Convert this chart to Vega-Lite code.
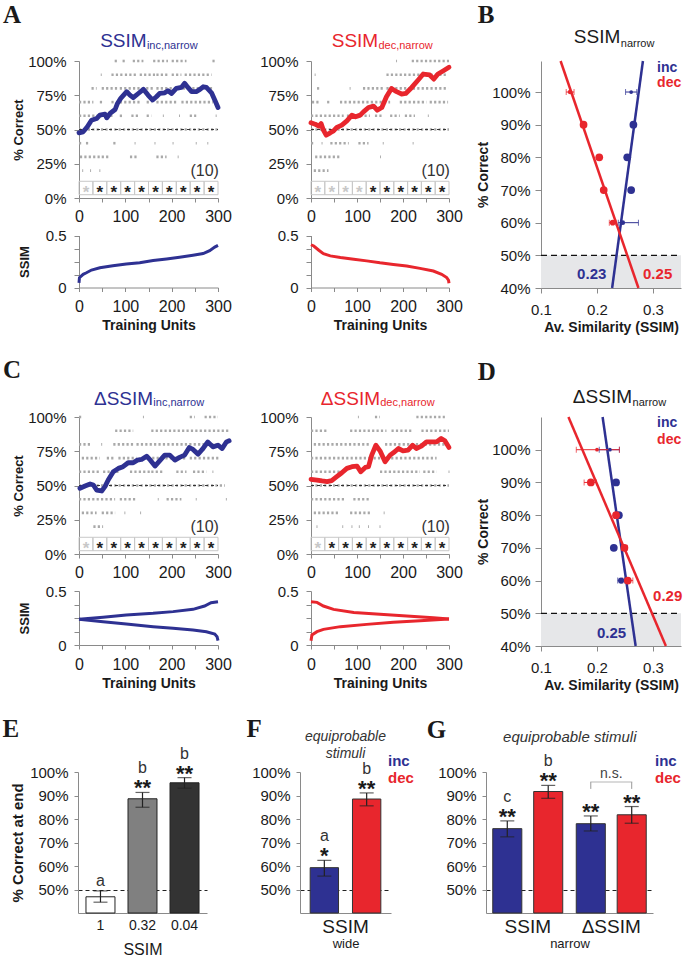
{
"$schema": "https://vega.github.io/schema/vega-lite/v6.json",
"width": 685, "height": 958,
"autosize": {"type": "none"},
"padding": 0,
"config": {
  "font": "Liberation Sans",
  "view": {"stroke": null},
  "axis": {"domainColor": "#8a8a8a", "tickColor": "#8a8a8a", "labelColor": "#1a1a1a", "titleColor": "#1a1a1a", "grid": false, "labelFontSize": 15, "titleFontSize": 14, "titleFontWeight": "bold", "labelFont": "Liberation Sans", "titleFont": "Liberation Sans"},
  "text": {"font": "Liberation Sans", "color": "#1a1a1a"}
},
"datasets": {
  "dots": [
    {"panel":"aL","level":100,"from":77,"to":85},{"panel":"aL","level":100,"from":94,"to":101},{"panel":"aL","level":100,"from":116,"to":139},{"panel":"aL","level":100,"from":160,"to":192},{"panel":"aL","level":100,"from":200,"to":232},{"panel":"aL","level":100,"from":288,"to":296},
    {"panel":"aL","level":90,"from":47,"to":49},{"panel":"aL","level":90,"from":70,"to":95},{"panel":"aL","level":90,"from":99,"to":124},{"panel":"aL","level":90,"from":131,"to":164},{"panel":"aL","level":90,"from":167,"to":192},{"panel":"aL","level":90,"from":200,"to":221},{"panel":"aL","level":90,"from":228,"to":286},
    {"panel":"aL","level":80,"from":27,"to":38},{"panel":"aL","level":80,"from":49,"to":85},{"panel":"aL","level":80,"from":88,"to":160},{"panel":"aL","level":80,"from":167,"to":232},{"panel":"aL","level":80,"from":235,"to":289},
    {"panel":"aL","level":70,"from":0,"to":31},{"panel":"aL","level":70,"from":45,"to":52},{"panel":"aL","level":70,"from":70,"to":77},{"panel":"aL","level":70,"from":88,"to":131},{"panel":"aL","level":70,"from":146,"to":156},{"panel":"aL","level":70,"from":167,"to":214},{"panel":"aL","level":70,"from":221,"to":289},
    {"panel":"aL","level":60,"from":0,"to":45},{"panel":"aL","level":60,"from":58,"to":77},{"panel":"aL","level":60,"from":88,"to":95},{"panel":"aL","level":60,"from":113,"to":131},{"panel":"aL","level":60,"from":146,"to":156},{"panel":"aL","level":60,"from":181,"to":183},{"panel":"aL","level":60,"from":216,"to":218},{"panel":"aL","level":60,"from":239,"to":253},{"panel":"aL","level":60,"from":295,"to":297},
    {"panel":"aL","level":50,"from":0,"to":300},
    {"panel":"aL","level":40,"from":0,"to":6},{"panel":"aL","level":40,"from":15,"to":24},{"panel":"aL","level":40,"from":74,"to":81},{"panel":"aL","level":40,"from":120,"to":122},{"panel":"aL","level":40,"from":163,"to":165},{"panel":"aL","level":40,"from":202,"to":204},{"panel":"aL","level":40,"from":252,"to":254},{"panel":"aL","level":40,"from":277,"to":279},
    {"panel":"aL","level":30,"from":2,"to":45},{"panel":"aL","level":30,"from":49,"to":67},{"panel":"aL","level":30,"from":110,"to":128},{"panel":"aL","level":30,"from":167,"to":189},{"panel":"aL","level":30,"from":213,"to":215},
    {"panel":"aL","level":20,"from":7,"to":9},{"panel":"aL","level":20,"from":24,"to":26},{"panel":"aL","level":20,"from":44,"to":46},
    {"panel":"aR","level":100,"from":185,"to":187},{"panel":"aR","level":100,"from":219,"to":300},
    {"panel":"aR","level":90,"from":8,"to":10},{"panel":"aR","level":90,"from":164,"to":294},
    {"panel":"aR","level":80,"from":13,"to":20},{"panel":"aR","level":80,"from":84,"to":86},{"panel":"aR","level":80,"from":113,"to":161},{"panel":"aR","level":80,"from":164,"to":298},
    {"panel":"aR","level":70,"from":2,"to":20},{"panel":"aR","level":70,"from":35,"to":42},{"panel":"aR","level":70,"from":63,"to":172},{"panel":"aR","level":70,"from":193,"to":251},{"panel":"aR","level":70,"from":258,"to":298},
    {"panel":"aR","level":60,"from":0,"to":71},{"panel":"aR","level":60,"from":78,"to":128},{"panel":"aR","level":60,"from":139,"to":157},{"panel":"aR","level":60,"from":172,"to":193},{"panel":"aR","level":60,"from":204,"to":226},{"panel":"aR","level":60,"from":254,"to":256},
    {"panel":"aR","level":50,"from":0,"to":300},
    {"panel":"aR","level":40,"from":0,"to":9},{"panel":"aR","level":40,"from":23,"to":25},{"panel":"aR","level":40,"from":42,"to":82},{"panel":"aR","level":40,"from":103,"to":125},{"panel":"aR","level":40,"from":156,"to":158},{"panel":"aR","level":40,"from":221,"to":223},
    {"panel":"aR","level":30,"from":9,"to":63},{"panel":"aR","level":30,"from":150,"to":152},
    {"panel":"aR","level":20,"from":6,"to":38},
    {"panel":"cL","level":100,"from":0,"to":9},{"panel":"cL","level":100,"from":138,"to":140},{"panel":"cL","level":100,"from":239,"to":250},{"panel":"cL","level":100,"from":271,"to":300},
    {"panel":"cL","level":90,"from":78,"to":117},{"panel":"cL","level":90,"from":156,"to":325},
    {"panel":"cL","level":80,"from":0,"to":27},{"panel":"cL","level":80,"from":48,"to":50},{"panel":"cL","level":80,"from":74,"to":117},{"panel":"cL","level":80,"from":124,"to":304},
    {"panel":"cL","level":70,"from":6,"to":45},{"panel":"cL","level":70,"from":60,"to":75},{"panel":"cL","level":70,"from":85,"to":124},{"panel":"cL","level":70,"from":139,"to":232},{"panel":"cL","level":70,"from":239,"to":304},
    {"panel":"cL","level":60,"from":0,"to":45},{"panel":"cL","level":60,"from":52,"to":88},{"panel":"cL","level":60,"from":110,"to":153},{"panel":"cL","level":60,"from":156,"to":182},{"panel":"cL","level":60,"from":210,"to":232},{"panel":"cL","level":60,"from":246,"to":275},{"panel":"cL","level":60,"from":288,"to":290},
    {"panel":"cL","level":50,"from":0,"to":315},
    {"panel":"cL","level":40,"from":0,"to":78},{"panel":"cL","level":40,"from":88,"to":124},{"panel":"cL","level":40,"from":170,"to":172},{"panel":"cL","level":40,"from":189,"to":221},{"panel":"cL","level":40,"from":252,"to":254},{"panel":"cL","level":40,"from":317,"to":319},
    {"panel":"cL","level":30,"from":6,"to":38},{"panel":"cL","level":30,"from":49,"to":78},{"panel":"cL","level":30,"from":98,"to":100},{"panel":"cL","level":30,"from":132,"to":134},
    {"panel":"cL","level":20,"from":31,"to":52},
    {"panel":"cR","level":100,"from":102,"to":104},{"panel":"cR","level":100,"from":139,"to":150},{"panel":"cR","level":100,"from":229,"to":291},
    {"panel":"cR","level":90,"from":0,"to":35},{"panel":"cR","level":90,"from":85,"to":164},{"panel":"cR","level":90,"from":175,"to":222},{"panel":"cR","level":90,"from":240,"to":300},
    {"panel":"cR","level":80,"from":6,"to":128},{"panel":"cR","level":80,"from":161,"to":300},
    {"panel":"cR","level":70,"from":0,"to":128},{"panel":"cR","level":70,"from":136,"to":273},
    {"panel":"cR","level":60,"from":0,"to":71},{"panel":"cR","level":60,"from":150,"to":237},{"panel":"cR","level":60,"from":244,"to":273},{"panel":"cR","level":60,"from":299,"to":301},
    {"panel":"cR","level":50,"from":0,"to":300},
    {"panel":"cR","level":40,"from":0,"to":74},{"panel":"cR","level":40,"from":92,"to":128},
    {"panel":"cR","level":30,"from":6,"to":63},{"panel":"cR","level":30,"from":85,"to":128},{"panel":"cR","level":30,"from":158,"to":160},
    {"panel":"cR","level":20,"from":12,"to":14},{"panel":"cR","level":20,"from":68,"to":70},{"panel":"cR","level":20,"from":88,"to":90},{"panel":"cR","level":20,"from":104,"to":106},{"panel":"cR","level":20,"from":124,"to":126},{"panel":"cR","level":20,"from":149,"to":151}
  ],
  "cells": [
    {"panel":"aL","from":0,"to":30,"mid":15,"sig":false},{"panel":"aL","from":30,"to":60,"mid":45,"sig":true},{"panel":"aL","from":60,"to":90,"mid":75,"sig":true},{"panel":"aL","from":90,"to":120,"mid":105,"sig":true},{"panel":"aL","from":120,"to":150,"mid":135,"sig":true},{"panel":"aL","from":150,"to":180,"mid":165,"sig":true},{"panel":"aL","from":180,"to":210,"mid":195,"sig":true},{"panel":"aL","from":210,"to":240,"mid":225,"sig":true},{"panel":"aL","from":240,"to":270,"mid":255,"sig":true},{"panel":"aL","from":270,"to":300,"mid":285,"sig":true},
    {"panel":"aR","from":0,"to":30,"mid":15,"sig":false},{"panel":"aR","from":30,"to":60,"mid":45,"sig":false},{"panel":"aR","from":60,"to":90,"mid":75,"sig":false},{"panel":"aR","from":90,"to":120,"mid":105,"sig":false},{"panel":"aR","from":120,"to":150,"mid":135,"sig":true},{"panel":"aR","from":150,"to":180,"mid":165,"sig":true},{"panel":"aR","from":180,"to":210,"mid":195,"sig":true},{"panel":"aR","from":210,"to":240,"mid":225,"sig":true},{"panel":"aR","from":240,"to":270,"mid":255,"sig":true},{"panel":"aR","from":270,"to":300,"mid":285,"sig":true},
    {"panel":"cL","from":0,"to":30,"mid":15,"sig":false},{"panel":"cL","from":30,"to":60,"mid":45,"sig":true},{"panel":"cL","from":60,"to":90,"mid":75,"sig":true},{"panel":"cL","from":90,"to":120,"mid":105,"sig":true},{"panel":"cL","from":120,"to":150,"mid":135,"sig":true},{"panel":"cL","from":150,"to":180,"mid":165,"sig":true},{"panel":"cL","from":180,"to":210,"mid":195,"sig":true},{"panel":"cL","from":210,"to":240,"mid":225,"sig":true},{"panel":"cL","from":240,"to":270,"mid":255,"sig":true},{"panel":"cL","from":270,"to":300,"mid":285,"sig":true},
    {"panel":"cR","from":0,"to":30,"mid":15,"sig":false},{"panel":"cR","from":30,"to":60,"mid":45,"sig":true},{"panel":"cR","from":60,"to":90,"mid":75,"sig":true},{"panel":"cR","from":90,"to":120,"mid":105,"sig":true},{"panel":"cR","from":120,"to":150,"mid":135,"sig":true},{"panel":"cR","from":150,"to":180,"mid":165,"sig":true},{"panel":"cR","from":180,"to":210,"mid":195,"sig":true},{"panel":"cR","from":210,"to":240,"mid":225,"sig":true},{"panel":"cR","from":240,"to":270,"mid":255,"sig":true},{"panel":"cR","from":270,"to":300,"mid":285,"sig":true}
  ],
  "curve": [
    {"panel":"aL","u":0,"p":47.6},{"panel":"aL","u":9,"p":48.3},{"panel":"aL","u":18,"p":52},{"panel":"aL","u":27,"p":56.8},{"panel":"aL","u":38,"p":58},{"panel":"aL","u":45,"p":60.5},{"panel":"aL","u":56,"p":61.2},{"panel":"aL","u":60,"p":58.5},{"panel":"aL","u":67,"p":61.7},{"panel":"aL","u":78,"p":64.6},{"panel":"aL","u":83,"p":69},{"panel":"aL","u":90,"p":72.7},{"panel":"aL","u":103,"p":77.6},{"panel":"aL","u":110,"p":75.1},{"panel":"aL","u":117,"p":73.2},{"panel":"aL","u":128,"p":76.3},{"panel":"aL","u":139,"p":79.3},{"panel":"aL","u":149,"p":75.1},{"panel":"aL","u":159,"p":71.5},{"panel":"aL","u":167,"p":73.9},{"panel":"aL","u":174,"p":76.3},{"panel":"aL","u":185,"p":76.8},{"panel":"aL","u":192,"p":78.3},{"panel":"aL","u":200,"p":76.3},{"panel":"aL","u":210,"p":80},{"panel":"aL","u":221,"p":80.7},{"panel":"aL","u":228,"p":83.7},{"panel":"aL","u":235,"p":80.7},{"panel":"aL","u":243,"p":77.6},{"panel":"aL","u":253,"p":77.6},{"panel":"aL","u":261,"p":79.3},{"panel":"aL","u":268,"p":81.2},{"panel":"aL","u":275,"p":80.7},{"panel":"aL","u":286,"p":76.8},{"panel":"aL","u":293,"p":71.5},{"panel":"aL","u":300,"p":66.1},
    {"panel":"aR","u":0,"p":54.9},{"panel":"aR","u":9,"p":53.9},{"panel":"aR","u":17,"p":52.4},{"panel":"aR","u":22,"p":54.4},{"panel":"aR","u":27,"p":49.5},{"panel":"aR","u":33,"p":45.9},{"panel":"aR","u":42,"p":47.6},{"panel":"aR","u":49,"p":49},{"panel":"aR","u":56,"p":51.5},{"panel":"aR","u":67,"p":53.2},{"panel":"aR","u":78,"p":56.3},{"panel":"aR","u":89,"p":60.5},{"panel":"aR","u":97,"p":59.3},{"panel":"aR","u":107,"p":60.5},{"panel":"aR","u":114,"p":62.9},{"panel":"aR","u":125,"p":66.1},{"panel":"aR","u":136,"p":67.1},{"panel":"aR","u":144,"p":64.1},{"panel":"aR","u":154,"p":66.1},{"panel":"aR","u":164,"p":73.9},{"panel":"aR","u":175,"p":80},{"panel":"aR","u":186,"p":77.6},{"panel":"aR","u":197,"p":75.9},{"panel":"aR","u":206,"p":76.3},{"panel":"aR","u":219,"p":80.7},{"panel":"aR","u":233,"p":86.1},{"panel":"aR","u":244,"p":90.5},{"panel":"aR","u":258,"p":89.8},{"panel":"aR","u":267,"p":86.8},{"panel":"aR","u":276,"p":90.5},{"panel":"aR","u":287,"p":92.7},{"panel":"aR","u":300,"p":95.4},
    {"panel":"cL","u":2,"p":47.9},{"panel":"cL","u":13,"p":49.6},{"panel":"cL","u":24,"p":51.1},{"panel":"cL","u":31,"p":50.4},{"panel":"cL","u":38,"p":46.7},{"panel":"cL","u":49,"p":46},{"panel":"cL","u":56,"p":49.2},{"panel":"cL","u":63,"p":54},{"panel":"cL","u":74,"p":60},{"panel":"cL","u":85,"p":62.5},{"panel":"cL","u":95,"p":63.7},{"panel":"cL","u":106,"p":66.6},{"panel":"cL","u":117,"p":66.6},{"panel":"cL","u":126,"p":68.5},{"panel":"cL","u":135,"p":69},{"panel":"cL","u":146,"p":71.4},{"panel":"cL","u":154,"p":68.5},{"panel":"cL","u":164,"p":64.2},{"panel":"cL","u":174,"p":68},{"panel":"cL","u":185,"p":72.2},{"panel":"cL","u":196,"p":72.2},{"panel":"cL","u":207,"p":68.5},{"panel":"cL","u":217,"p":70.5},{"panel":"cL","u":228,"p":72.2},{"panel":"cL","u":238,"p":77.7},{"panel":"cL","u":246,"p":76.3},{"panel":"cL","u":257,"p":72.9},{"panel":"cL","u":266,"p":76.3},{"panel":"cL","u":278,"p":81.8},{"panel":"cL","u":289,"p":78.2},{"panel":"cL","u":300,"p":79.4},{"panel":"cL","u":309,"p":77},{"panel":"cL","u":318,"p":81.8},{"panel":"cL","u":324,"p":82.6},
    {"panel":"cR","u":0,"p":54.5},{"panel":"cR","u":13,"p":54},{"panel":"cR","u":24,"p":53.3},{"panel":"cR","u":35,"p":52.8},{"panel":"cR","u":45,"p":53.5},{"panel":"cR","u":56,"p":56.4},{"panel":"cR","u":67,"p":59.3},{"panel":"cR","u":78,"p":62.5},{"panel":"cR","u":89,"p":63.7},{"panel":"cR","u":100,"p":64.2},{"panel":"cR","u":108,"p":60},{"panel":"cR","u":118,"p":63.2},{"panel":"cR","u":125,"p":63.7},{"panel":"cR","u":132,"p":72.2},{"panel":"cR","u":141,"p":79.4},{"panel":"cR","u":150,"p":75.3},{"panel":"cR","u":161,"p":67.3},{"panel":"cR","u":172,"p":72.2},{"panel":"cR","u":182,"p":74.6},{"panel":"cR","u":190,"p":77},{"panel":"cR","u":200,"p":75.3},{"panel":"cR","u":211,"p":75.8},{"panel":"cR","u":221,"p":79.4},{"panel":"cR","u":229,"p":77},{"panel":"cR","u":240,"p":78.7},{"panel":"cR","u":251,"p":81.8},{"panel":"cR","u":262,"p":81.8},{"panel":"cR","u":273,"p":81.8},{"panel":"cR","u":283,"p":84.3},{"panel":"cR","u":291,"p":82.6},{"panel":"cR","u":300,"p":77.7}
  ],
  "ssim": [
    {"panel":"aL","line":"a","u":0,"s":0.045},{"panel":"aL","line":"a","u":1,"s":0.095},{"panel":"aL","line":"a","u":9,"s":0.127},{"panel":"aL","line":"a","u":16,"s":0.142},{"panel":"aL","line":"a","u":27,"s":0.168},{"panel":"aL","line":"a","u":45,"s":0.19},{"panel":"aL","line":"a","u":73,"s":0.209},{"panel":"aL","line":"a","u":102,"s":0.225},{"panel":"aL","line":"a","u":131,"s":0.237},{"panel":"aL","line":"a","u":160,"s":0.259},{"panel":"aL","line":"a","u":189,"s":0.275},{"panel":"aL","line":"a","u":217,"s":0.291},{"panel":"aL","line":"a","u":246,"s":0.31},{"panel":"aL","line":"a","u":268,"s":0.326},{"panel":"aL","line":"a","u":282,"s":0.354},{"panel":"aL","line":"a","u":293,"s":0.389},{"panel":"aL","line":"a","u":300,"s":0.405},
    {"panel":"aR","line":"a","u":0,"s":0.411},{"panel":"aR","line":"a","u":6,"s":0.399},{"panel":"aR","line":"a","u":17,"s":0.358},{"panel":"aR","line":"a","u":27,"s":0.326},{"panel":"aR","line":"a","u":42,"s":0.304},{"panel":"aR","line":"a","u":64,"s":0.288},{"panel":"aR","line":"a","u":93,"s":0.272},{"panel":"aR","line":"a","u":121,"s":0.256},{"panel":"aR","line":"a","u":150,"s":0.237},{"panel":"aR","line":"a","u":179,"s":0.222},{"panel":"aR","line":"a","u":208,"s":0.206},{"panel":"aR","line":"a","u":237,"s":0.184},{"panel":"aR","line":"a","u":266,"s":0.158},{"panel":"aR","line":"a","u":284,"s":0.127},{"panel":"aR","line":"a","u":295,"s":0.095},{"panel":"aR","line":"a","u":299,"s":0.07},{"panel":"aR","line":"a","u":300,"s":0.041},
    {"panel":"cL","line":"up","u":0,"s":0.238},{"panel":"cL","line":"up","u":52,"s":0.256},{"panel":"cL","line":"up","u":102,"s":0.278},{"panel":"cL","line":"up","u":160,"s":0.293},{"panel":"cL","line":"up","u":203,"s":0.309},{"panel":"cL","line":"up","u":246,"s":0.33},{"panel":"cL","line":"up","u":271,"s":0.361},{"panel":"cL","line":"up","u":285,"s":0.392},{"panel":"cL","line":"up","u":300,"s":0.401},
    {"panel":"cL","line":"down","u":0,"s":0.238},{"panel":"cL","line":"down","u":52,"s":0.216},{"panel":"cL","line":"down","u":102,"s":0.194},{"panel":"cL","line":"down","u":160,"s":0.17},{"panel":"cL","line":"down","u":203,"s":0.154},{"panel":"cL","line":"down","u":246,"s":0.139},{"panel":"cL","line":"down","u":275,"s":0.123},{"panel":"cL","line":"down","u":293,"s":0.102},{"panel":"cL","line":"down","u":298,"s":0.077},{"panel":"cL","line":"down","u":300,"s":0.04},
    {"panel":"cR","line":"up","u":0,"s":0.401},{"panel":"cR","line":"up","u":13,"s":0.395},{"panel":"cR","line":"up","u":27,"s":0.361},{"panel":"cR","line":"up","u":49,"s":0.33},{"panel":"cR","line":"up","u":93,"s":0.302},{"panel":"cR","line":"up","u":150,"s":0.284},{"panel":"cR","line":"up","u":208,"s":0.269},{"panel":"cR","line":"up","u":266,"s":0.253},{"panel":"cR","line":"up","u":300,"s":0.241},
    {"panel":"cR","line":"down","u":0,"s":0.04},{"panel":"cR","line":"down","u":2,"s":0.093},{"panel":"cR","line":"down","u":13,"s":0.123},{"panel":"cR","line":"down","u":27,"s":0.145},{"panel":"cR","line":"down","u":64,"s":0.17},{"panel":"cR","line":"down","u":121,"s":0.191},{"panel":"cR","line":"down","u":179,"s":0.21},{"panel":"cR","line":"down","u":237,"s":0.225},{"panel":"cR","line":"down","u":300,"s":0.241}
  ],
  "fits": [
    {"panel":"B","s":"inc","x":0.227,"p":40},{"panel":"B","s":"inc","x":0.282,"p":109.5},
    {"panel":"B","s":"dec","x":0.135,"p":109.5},{"panel":"B","s":"dec","x":0.274,"p":40},
    {"panel":"D","s":"inc","x":0.21,"p":110},{"panel":"D","s":"inc","x":0.269,"p":40},
    {"panel":"D","s":"dec","x":0.149,"p":110},{"panel":"D","s":"dec","x":0.323,"p":40}
  ],
  "pts": [
    {"panel":"B","s":"inc","p":100,"x":0.261,"lo":0.251,"hi":0.271},{"panel":"B","s":"inc","p":90,"x":0.265,"lo":0.265,"hi":0.265},{"panel":"B","s":"inc","p":80,"x":0.254,"lo":0.254,"hi":0.254},{"panel":"B","s":"inc","p":70,"x":0.261,"lo":0.261,"hi":0.261},{"panel":"B","s":"inc","p":60,"x":0.246,"lo":0.238,"hi":0.274},
    {"panel":"B","s":"dec","p":100,"x":0.152,"lo":0.145,"hi":0.159},{"panel":"B","s":"dec","p":90,"x":0.176,"lo":0.176,"hi":0.176},{"panel":"B","s":"dec","p":80,"x":0.204,"lo":0.204,"hi":0.204},{"panel":"B","s":"dec","p":70,"x":0.212,"lo":0.212,"hi":0.212},{"panel":"B","s":"dec","p":60,"x":0.228,"lo":0.222,"hi":0.234},
    {"panel":"D","s":"inc","p":100,"x":0.223,"lo":0.204,"hi":0.24},{"panel":"D","s":"inc","p":90,"x":0.234,"lo":0.234,"hi":0.234},{"panel":"D","s":"inc","p":80,"x":0.239,"lo":0.239,"hi":0.239},{"panel":"D","s":"inc","p":70,"x":0.23,"lo":0.23,"hi":0.23},{"panel":"D","s":"inc","p":60,"x":0.243,"lo":0.237,"hi":0.249},
    {"panel":"D","s":"dec","p":100,"x":0.2,"lo":0.163,"hi":0.24},{"panel":"D","s":"dec","p":90,"x":0.189,"lo":0.177,"hi":0.199},{"panel":"D","s":"dec","p":80,"x":0.234,"lo":0.234,"hi":0.234},{"panel":"D","s":"dec","p":70,"x":0.249,"lo":0.244,"hi":0.254},{"panel":"D","s":"dec","p":60,"x":0.255,"lo":0.246,"hi":0.264}
  ],
  "E": [
    {"k":"1","m":46.9,"lo":44.6,"hi":49.4,"stars":"","letter":"a"},
    {"k":"0.32","m":88.6,"lo":85,"hi":91.3,"stars":"**","letter":"b"},
    {"k":"0.04","m":95.4,"lo":93.1,"hi":97.6,"stars":"**","letter":"b"}
  ],
  "F": [
    {"g":"SSIM","s":"inc","m":59.3,"lo":55.7,"hi":62.4,"stars":"*","letter":"a"},
    {"g":"SSIM","s":"dec","m":88.5,"lo":85.6,"hi":91.1,"stars":"**","letter":"b"}
  ],
  "G": [
    {"g":"SSIM","s":"inc","m":75.9,"lo":72.4,"hi":79.2,"stars":"**","letter":"c"},
    {"g":"SSIM","s":"dec","m":91.7,"lo":88.8,"hi":94.3,"stars":"**","letter":"b"},
    {"g":"ΔSSIM","s":"inc","m":78,"lo":74.9,"hi":81.3,"stars":"**","letter":""},
    {"g":"ΔSSIM","s":"dec","m":81.8,"lo":78.2,"hi":85.3,"stars":"**","letter":""}
  ]
},
"resolve": {"scale": {"x": "independent", "y": "independent", "xOffset": "independent"}, "axis": {"x": "independent", "y": "independent"}},
"layer": [
  {"layer": [
    {"data": {"name": "dots"}, "transform": [{"filter": "datum.panel == 'aL'"}], "mark": {"type": "rule", "color": "#a9a9a9", "strokeWidth": 2.6, "strokeDash": [2.2, 2.2]},
     "encoding": {"x": {"field": "from", "type": "quantitative", "scale": {"domain": [0, 300], "range": [79, 218], "nice": false, "zero": false}, "axis": {"orient": "bottom", "offset": -760, "values": [0,50,100,150,200,250,300], "labelExpr": "datum.value % 100 == 0 ? datum.label : ''", "labelFontSize": 16, "labelPadding": 6, "title": null, "labelFlush": false, "labelOverlap": false, "tickSize": 4}},
      "x2": {"field": "to"},
      "y": {"field": "level", "type": "quantitative", "scale": {"domain": [0, 100], "range": [198, 61], "nice": false}, "axis": {"orient": "left", "offset": -79, "values": [0,25,50,75,100], "labelExpr": "datum.value + '%'", "labelPadding": 8, "labelFlush": false, "labelOverlap": false, "title": "% Correct", "titleFontSize": 13, "titlePadding": 2, "tickSize": 5}}}},
    {"data": {"values": [{}]}, "mark": {"type": "rule", "color": "#333333", "strokeWidth": 1, "strokeDash": [3, 3]}, "encoding": {"x": {"datum": 0}, "x2": {"datum": 300}, "y": {"datum": 50}}},
    {"data": {"name": "cells"}, "transform": [{"filter": "datum.panel == 'aL'"}], "mark": {"type": "rect", "filled": false, "color": "#c8c8c8", "strokeWidth": 1}, "encoding": {"x": {"field": "from", "type": "quantitative"}, "x2": {"field": "to"}, "y": {"datum": 2.4}, "y2": {"datum": 12.2}}},
    {"data": {"name": "cells"}, "transform": [{"filter": "datum.panel == 'aL'"}], "mark": {"type": "text", "text": "*", "fontSize": 17, "fontWeight": "bold", "baseline": "middle", "dy": 5}, "encoding": {"x": {"field": "mid", "type": "quantitative"}, "y": {"datum": 7.5}, "color": {"condition": {"test": "datum.sig", "value": "#222222"}, "value": "#c8c8c8"}}},
    {"data": {"name": "curve"}, "transform": [{"filter": "datum.panel == 'aL'"}], "mark": {"type": "line", "color": "#2e3192", "strokeWidth": 4.8, "strokeJoin": "round", "strokeCap": "round"}, "encoding": {"x": {"field": "u", "type": "quantitative"}, "y": {"field": "p", "type": "quantitative"}}},
    {"data": {"values": [{}]}, "mark": {"type": "text", "text": "(10)", "align": "right", "baseline": "middle", "fontSize": 16, "color": "#333333"}, "encoding": {"x": {"datum": 302}, "y": {"datum": 20}}},
    {"data": {"values": [{}]}, "mark": {"type": "text", "text": "SSIM", "align": "right", "baseline": "alphabetic", "fontSize": 19, "color": "#2e3192"}, "encoding": {"x": {"datum": 146}, "y": {"datum": 110.4}}},
    {"data": {"values": [{}]}, "mark": {"type": "text", "text": "inc,narrow", "align": "left", "baseline": "alphabetic", "fontSize": 11, "color": "#2e3192"}, "encoding": {"x": {"datum": 146.5}, "y": {"datum": 108.5}}},
    {"data": {"values": [{}]}, "mark": {"type": "text", "text": "A", "align": "left", "baseline": "alphabetic", "font": "Liberation Serif", "fontWeight": "bold", "fontSize": 25, "color": "#1a1a1a"}, "encoding": {"x": {"datum": -164}, "y": {"datum": 127.7}}}
  ]},
  {"data": {"name": "ssim"}, "transform": [{"filter": "datum.panel == 'aL'"}], "mark": {"type": "line", "color": "#2e3192", "strokeWidth": 3},
   "encoding": {"x": {"field": "u", "type": "quantitative", "scale": {"domain": [0, 300], "range": [79, 218], "nice": false}, "axis": {"orient": "bottom", "offset": -670.5, "values": [0,50,100,150,200,250,300], "labelExpr": "datum.value % 100 == 0 ? datum.label : ''", "labelFontSize": 16, "labelPadding": 7, "title": "Training Units", "titlePadding": 4, "labelFlush": false, "labelOverlap": false, "tickSize": 4}},
    "y": {"field": "s", "type": "quantitative", "scale": {"domain": [0, 0.5], "range": [287.5, 235.5], "nice": false}, "axis": {"orient": "left", "offset": -79, "values": [0,0.125,0.25,0.375,0.5], "labelExpr": "datum.value == 0 ? '0' : datum.value == 0.5 ? '0.5' : ''", "labelPadding": 8, "labelFlush": false, "labelOverlap": false, "title": "SSIM", "titleFontSize": 13, "titlePadding": 14, "tickSize": 5}},
    "detail": {"field": "line"}}},
  {"layer": [
    {"data": {"name": "dots"}, "transform": [{"filter": "datum.panel == 'aR'"}], "mark": {"type": "rule", "color": "#a9a9a9", "strokeWidth": 2.6, "strokeDash": [2.2, 2.2]},
     "encoding": {"x": {"field": "from", "type": "quantitative", "scale": {"domain": [0, 300], "range": [311, 449], "nice": false, "zero": false}, "axis": {"orient": "bottom", "offset": -760, "values": [0,50,100,150,200,250,300], "labelExpr": "datum.value % 100 == 0 ? datum.label : ''", "labelFontSize": 16, "labelPadding": 6, "title": null, "labelFlush": false, "labelOverlap": false, "tickSize": 4}},
      "x2": {"field": "to"},
      "y": {"field": "level", "type": "quantitative", "scale": {"domain": [0, 100], "range": [198, 61], "nice": false}, "axis": {"orient": "left", "offset": -311, "values": [0,25,50,75,100], "labelExpr": "datum.value + '%'", "labelPadding": 8, "labelFlush": false, "labelOverlap": false, "title": null, "tickSize": 5}}}},
    {"data": {"values": [{}]}, "mark": {"type": "rule", "color": "#333333", "strokeWidth": 1, "strokeDash": [3, 3]}, "encoding": {"x": {"datum": 0}, "x2": {"datum": 300}, "y": {"datum": 50}}},
    {"data": {"name": "cells"}, "transform": [{"filter": "datum.panel == 'aR'"}], "mark": {"type": "rect", "filled": false, "color": "#c8c8c8", "strokeWidth": 1}, "encoding": {"x": {"field": "from", "type": "quantitative"}, "x2": {"field": "to"}, "y": {"datum": 2.4}, "y2": {"datum": 12.2}}},
    {"data": {"name": "cells"}, "transform": [{"filter": "datum.panel == 'aR'"}], "mark": {"type": "text", "text": "*", "fontSize": 17, "fontWeight": "bold", "baseline": "middle", "dy": 5}, "encoding": {"x": {"field": "mid", "type": "quantitative"}, "y": {"datum": 7.5}, "color": {"condition": {"test": "datum.sig", "value": "#222222"}, "value": "#c8c8c8"}}},
    {"data": {"name": "curve"}, "transform": [{"filter": "datum.panel == 'aR'"}], "mark": {"type": "line", "color": "#e8262d", "strokeWidth": 4.8, "strokeJoin": "round", "strokeCap": "round"}, "encoding": {"x": {"field": "u", "type": "quantitative"}, "y": {"field": "p", "type": "quantitative"}}},
    {"data": {"values": [{}]}, "mark": {"type": "text", "text": "(10)", "align": "right", "baseline": "middle", "fontSize": 16, "color": "#333333"}, "encoding": {"x": {"datum": 302}, "y": {"datum": 20}}},
    {"data": {"values": [{}]}, "mark": {"type": "text", "text": "SSIM", "align": "right", "baseline": "alphabetic", "fontSize": 19, "color": "#e8262d"}, "encoding": {"x": {"datum": 146}, "y": {"datum": 110.4}}},
    {"data": {"values": [{}]}, "mark": {"type": "text", "text": "dec,narrow", "align": "left", "baseline": "alphabetic", "fontSize": 11, "color": "#e8262d"}, "encoding": {"x": {"datum": 146.5}, "y": {"datum": 108.5}}}
  ]},
  {"data": {"name": "ssim"}, "transform": [{"filter": "datum.panel == 'aR'"}], "mark": {"type": "line", "color": "#e8262d", "strokeWidth": 3},
   "encoding": {"x": {"field": "u", "type": "quantitative", "scale": {"domain": [0, 300], "range": [311, 449], "nice": false}, "axis": {"orient": "bottom", "offset": -670.5, "values": [0,50,100,150,200,250,300], "labelExpr": "datum.value % 100 == 0 ? datum.label : ''", "labelFontSize": 16, "labelPadding": 7, "title": "Training Units", "titlePadding": 4, "labelFlush": false, "labelOverlap": false, "tickSize": 4}},
    "y": {"field": "s", "type": "quantitative", "scale": {"domain": [0, 0.5], "range": [287.5, 235.5], "nice": false}, "axis": {"orient": "left", "offset": -311, "values": [0,0.125,0.25,0.375,0.5], "labelExpr": "datum.value == 0 ? '0' : datum.value == 0.5 ? '0.5' : ''", "labelPadding": 8, "labelFlush": false, "labelOverlap": false, "title": null, "tickSize": 5}},
    "detail": {"field": "line"}}},
  {"layer": [
    {"data": {"values": [{}]}, "mark": {"type": "rect", "color": "#e6e7e9"}, "encoding": {"x": {"datum": 0.1, "type": "quantitative"}, "x2": {"datum": 0.35}, "y": {"datum": 40, "type": "quantitative"}, "y2": {"datum": 50}}},
    {"data": {"values": [{}]}, "mark": {"type": "rule", "color": "#111111", "strokeWidth": 1.3, "strokeDash": [6, 4]}, "encoding": {"x": {"datum": 0.1}, "x2": {"datum": 0.35}, "y": {"datum": 50}}},
    {"data": {"name": "fits"}, "transform": [{"filter": "datum.panel == 'B'"}], "mark": {"type": "line", "strokeWidth": 2.5}, "encoding": {"x": {"field": "x", "type": "quantitative"}, "y": {"field": "p", "type": "quantitative"}, "detail": {"field": "s"}, "color": {"condition": {"test": "datum.s == 'inc'", "value": "#2e3192"}, "value": "#e8262d"}}},
    {"data": {"name": "pts"}, "transform": [{"filter": "datum.panel == 'B' && datum.hi > datum.lo"}], "mark": {"type": "rule", "strokeWidth": 1}, "encoding": {"x": {"field": "lo", "type": "quantitative"}, "x2": {"field": "hi"}, "y": {"field": "p", "type": "quantitative"}, "color": {"condition": {"test": "datum.s == 'inc'", "value": "#2e3192"}, "value": "#e8262d"}}},
    {"data": {"name": "pts"}, "transform": [{"filter": "datum.panel == 'B' && datum.hi > datum.lo"}], "mark": {"type": "tick", "orient": "vertical", "size": 6, "thickness": 1}, "encoding": {"x": {"field": "lo", "type": "quantitative"}, "y": {"field": "p", "type": "quantitative"}, "color": {"condition": {"test": "datum.s == 'inc'", "value": "#2e3192"}, "value": "#e8262d"}}},
    {"data": {"name": "pts"}, "transform": [{"filter": "datum.panel == 'B' && datum.hi > datum.lo"}], "mark": {"type": "tick", "orient": "vertical", "size": 6, "thickness": 1}, "encoding": {"x": {"field": "hi", "type": "quantitative"}, "y": {"field": "p", "type": "quantitative"}, "color": {"condition": {"test": "datum.s == 'inc'", "value": "#2e3192"}, "value": "#e8262d"}}},
    {"data": {"name": "pts"}, "transform": [{"filter": "datum.panel == 'B'"}], "mark": {"type": "circle", "opacity": 1},
     "encoding": {"x": {"field": "x", "type": "quantitative", "scale": {"domain": [0.1, 0.35], "range": [541, 681], "nice": false, "zero": false}, "axis": {"orient": "bottom", "offset": -670, "values": [0.1,0.2,0.3], "format": ".1f", "labelPadding": 9, "title": "Av. Similarity (SSIM)", "titlePadding": 3, "labelFlush": false, "labelOverlap": false, "tickSize": 5}},
      "y": {"field": "p", "type": "quantitative", "scale": {"domain": [40, 109.5], "range": [288, 61], "nice": false, "zero": false}, "axis": {"orient": "left", "offset": -541, "values": [40,50,60,70,80,90,100], "labelExpr": "datum.value + '%'", "labelPadding": 5, "title": "% Correct", "titlePadding": 1, "labelFlush": false, "labelOverlap": false, "tickSize": 6}},
      "color": {"condition": {"test": "datum.s == 'inc'", "value": "#2e3192"}, "value": "#e8262d"},
      "size": {"condition": [{"test": "datum.p == 100 && datum.s == 'inc'", "value": 14}, {"test": "datum.p == 100 || (datum.p == 60 && datum.s == 'inc')", "value": 22}, {"test": "datum.p == 60", "value": 32}], "value": 60}}},
    {"data": {"values": [{}]}, "mark": {"type": "text", "text": "inc", "align": "left", "baseline": "alphabetic", "fontSize": 14, "fontWeight": "bold", "color": "#2e3192"}, "encoding": {"x": {"datum": 0.3073}, "y": {"datum": 106.2}}},
    {"data": {"values": [{}]}, "mark": {"type": "text", "text": "dec", "align": "left", "baseline": "alphabetic", "fontSize": 14, "fontWeight": "bold", "color": "#e8262d"}, "encoding": {"x": {"datum": 0.3073}, "y": {"datum": 101.5}}},
    {"data": {"values": [{}]}, "mark": {"type": "text", "text": "0.23", "align": "left", "baseline": "alphabetic", "fontSize": 15, "fontWeight": "bold", "color": "#2e3192"}, "encoding": {"x": {"datum": 0.1645}, "y": {"datum": 42.8}}},
    {"data": {"values": [{}]}, "mark": {"type": "text", "text": "0.25", "align": "left", "baseline": "alphabetic", "fontSize": 15, "fontWeight": "bold", "color": "#e8262d"}, "encoding": {"x": {"datum": 0.2822}, "y": {"datum": 42.8}}},
    {"data": {"values": [{}]}, "mark": {"type": "text", "text": "SSIM", "align": "right", "baseline": "alphabetic", "fontSize": 19, "color": "#1a1a1a"}, "encoding": {"x": {"datum": 0.2416}, "y": {"datum": 114.9}}},
    {"data": {"values": [{}]}, "mark": {"type": "text", "text": "narrow", "align": "left", "baseline": "alphabetic", "fontSize": 11, "color": "#1a1a1a"}, "encoding": {"x": {"datum": 0.2425}, "y": {"datum": 113.9}}},
    {"data": {"values": [{}]}, "mark": {"type": "text", "text": "B", "align": "left", "baseline": "alphabetic", "font": "Liberation Serif", "fontWeight": "bold", "fontSize": 25, "color": "#1a1a1a"}, "encoding": {"x": {"datum": -0.0129}, "y": {"datum": 121.1}}}
  ]},
  {"layer": [
    {"data": {"name": "dots"}, "transform": [{"filter": "datum.panel == 'cL'"}], "mark": {"type": "rule", "color": "#a9a9a9", "strokeWidth": 2.6, "strokeDash": [2.2, 2.2]},
     "encoding": {"x": {"field": "from", "type": "quantitative", "scale": {"domain": [0, 300], "range": [79, 218], "nice": false, "zero": false}, "axis": {"orient": "bottom", "offset": -404, "values": [0,50,100,150,200,250,300], "labelExpr": "datum.value % 100 == 0 ? datum.label : ''", "labelFontSize": 16, "labelPadding": 6, "title": null, "labelFlush": false, "labelOverlap": false, "tickSize": 4}},
      "x2": {"field": "to"},
      "y": {"field": "level", "type": "quantitative", "scale": {"domain": [0, 100], "range": [554, 417], "nice": false}, "axis": {"orient": "left", "offset": -79, "values": [0,25,50,75,100], "labelExpr": "datum.value + '%'", "labelPadding": 8, "labelFlush": false, "labelOverlap": false, "title": "% Correct", "titleFontSize": 13, "titlePadding": 2, "tickSize": 5}}}},
    {"data": {"values": [{}]}, "mark": {"type": "rule", "color": "#333333", "strokeWidth": 1, "strokeDash": [3, 3]}, "encoding": {"x": {"datum": 0}, "x2": {"datum": 300}, "y": {"datum": 50}}},
    {"data": {"name": "cells"}, "transform": [{"filter": "datum.panel == 'cL'"}], "mark": {"type": "rect", "filled": false, "color": "#c8c8c8", "strokeWidth": 1}, "encoding": {"x": {"field": "from", "type": "quantitative"}, "x2": {"field": "to"}, "y": {"datum": 2.4}, "y2": {"datum": 12.2}}},
    {"data": {"name": "cells"}, "transform": [{"filter": "datum.panel == 'cL'"}], "mark": {"type": "text", "text": "*", "fontSize": 17, "fontWeight": "bold", "baseline": "middle", "dy": 5}, "encoding": {"x": {"field": "mid", "type": "quantitative"}, "y": {"datum": 7.5}, "color": {"condition": {"test": "datum.sig", "value": "#222222"}, "value": "#c8c8c8"}}},
    {"data": {"name": "curve"}, "transform": [{"filter": "datum.panel == 'cL'"}], "mark": {"type": "line", "color": "#2e3192", "strokeWidth": 4.8, "strokeJoin": "round", "strokeCap": "round"}, "encoding": {"x": {"field": "u", "type": "quantitative"}, "y": {"field": "p", "type": "quantitative"}}},
    {"data": {"values": [{}]}, "mark": {"type": "text", "text": "(10)", "align": "right", "baseline": "middle", "fontSize": 16, "color": "#333333"}, "encoding": {"x": {"datum": 302}, "y": {"datum": 20}}},
    {"data": {"values": [{}]}, "mark": {"type": "text", "text": "ΔSSIM", "align": "right", "baseline": "alphabetic", "fontSize": 19, "color": "#2e3192"}, "encoding": {"x": {"datum": 160}, "y": {"datum": 108.8}}},
    {"data": {"values": [{}]}, "mark": {"type": "text", "text": "inc,narrow", "align": "left", "baseline": "alphabetic", "fontSize": 11, "color": "#2e3192"}, "encoding": {"x": {"datum": 160.5}, "y": {"datum": 108}}},
    {"data": {"values": [{}]}, "mark": {"type": "text", "text": "C", "align": "left", "baseline": "alphabetic", "font": "Liberation Serif", "fontWeight": "bold", "fontSize": 25, "color": "#1a1a1a"}, "encoding": {"x": {"datum": -164}, "y": {"datum": 128.5}}}
  ]},
  {"data": {"name": "ssim"}, "transform": [{"filter": "datum.panel == 'cL'"}], "mark": {"type": "line", "color": "#2e3192", "strokeWidth": 3},
   "encoding": {"x": {"field": "u", "type": "quantitative", "scale": {"domain": [0, 300], "range": [79, 218], "nice": false}, "axis": {"orient": "bottom", "offset": -313, "values": [0,50,100,150,200,250,300], "labelExpr": "datum.value % 100 == 0 ? datum.label : ''", "labelFontSize": 16, "labelPadding": 7, "title": "Training Units", "titlePadding": 4, "labelFlush": false, "labelOverlap": false, "tickSize": 4}},
    "y": {"field": "s", "type": "quantitative", "scale": {"domain": [0, 0.5], "range": [645, 591], "nice": false}, "axis": {"orient": "left", "offset": -79, "values": [0,0.125,0.25,0.375,0.5], "labelExpr": "datum.value == 0 ? '0' : datum.value == 0.5 ? '0.5' : ''", "labelPadding": 8, "labelFlush": false, "labelOverlap": false, "title": "SSIM", "titleFontSize": 13, "titlePadding": 14, "tickSize": 5}},
    "detail": {"field": "line"}}},
  {"layer": [
    {"data": {"name": "dots"}, "transform": [{"filter": "datum.panel == 'cR'"}], "mark": {"type": "rule", "color": "#a9a9a9", "strokeWidth": 2.6, "strokeDash": [2.2, 2.2]},
     "encoding": {"x": {"field": "from", "type": "quantitative", "scale": {"domain": [0, 300], "range": [311, 449], "nice": false, "zero": false}, "axis": {"orient": "bottom", "offset": -404, "values": [0,50,100,150,200,250,300], "labelExpr": "datum.value % 100 == 0 ? datum.label : ''", "labelFontSize": 16, "labelPadding": 6, "title": null, "labelFlush": false, "labelOverlap": false, "tickSize": 4}},
      "x2": {"field": "to"},
      "y": {"field": "level", "type": "quantitative", "scale": {"domain": [0, 100], "range": [554, 417], "nice": false}, "axis": {"orient": "left", "offset": -311, "values": [0,25,50,75,100], "labelExpr": "datum.value + '%'", "labelPadding": 8, "labelFlush": false, "labelOverlap": false, "title": null, "tickSize": 5}}}},
    {"data": {"values": [{}]}, "mark": {"type": "rule", "color": "#333333", "strokeWidth": 1, "strokeDash": [3, 3]}, "encoding": {"x": {"datum": 0}, "x2": {"datum": 300}, "y": {"datum": 50}}},
    {"data": {"name": "cells"}, "transform": [{"filter": "datum.panel == 'cR'"}], "mark": {"type": "rect", "filled": false, "color": "#c8c8c8", "strokeWidth": 1}, "encoding": {"x": {"field": "from", "type": "quantitative"}, "x2": {"field": "to"}, "y": {"datum": 2.4}, "y2": {"datum": 12.2}}},
    {"data": {"name": "cells"}, "transform": [{"filter": "datum.panel == 'cR'"}], "mark": {"type": "text", "text": "*", "fontSize": 17, "fontWeight": "bold", "baseline": "middle", "dy": 5}, "encoding": {"x": {"field": "mid", "type": "quantitative"}, "y": {"datum": 7.5}, "color": {"condition": {"test": "datum.sig", "value": "#222222"}, "value": "#c8c8c8"}}},
    {"data": {"name": "curve"}, "transform": [{"filter": "datum.panel == 'cR'"}], "mark": {"type": "line", "color": "#e8262d", "strokeWidth": 4.8, "strokeJoin": "round", "strokeCap": "round"}, "encoding": {"x": {"field": "u", "type": "quantitative"}, "y": {"field": "p", "type": "quantitative"}}},
    {"data": {"values": [{}]}, "mark": {"type": "text", "text": "(10)", "align": "right", "baseline": "middle", "fontSize": 16, "color": "#333333"}, "encoding": {"x": {"datum": 302}, "y": {"datum": 20}}},
    {"data": {"values": [{}]}, "mark": {"type": "text", "text": "ΔSSIM", "align": "right", "baseline": "alphabetic", "fontSize": 19, "color": "#e8262d"}, "encoding": {"x": {"datum": 150}, "y": {"datum": 108.8}}},
    {"data": {"values": [{}]}, "mark": {"type": "text", "text": "dec,narrow", "align": "left", "baseline": "alphabetic", "fontSize": 11, "color": "#e8262d"}, "encoding": {"x": {"datum": 150.5}, "y": {"datum": 108}}}
  ]},
  {"data": {"name": "ssim"}, "transform": [{"filter": "datum.panel == 'cR'"}], "mark": {"type": "line", "color": "#e8262d", "strokeWidth": 3},
   "encoding": {"x": {"field": "u", "type": "quantitative", "scale": {"domain": [0, 300], "range": [311, 449], "nice": false}, "axis": {"orient": "bottom", "offset": -313, "values": [0,50,100,150,200,250,300], "labelExpr": "datum.value % 100 == 0 ? datum.label : ''", "labelFontSize": 16, "labelPadding": 7, "title": "Training Units", "titlePadding": 4, "labelFlush": false, "labelOverlap": false, "tickSize": 4}},
    "y": {"field": "s", "type": "quantitative", "scale": {"domain": [0, 0.5], "range": [645, 591], "nice": false}, "axis": {"orient": "left", "offset": -311, "values": [0,0.125,0.25,0.375,0.5], "labelExpr": "datum.value == 0 ? '0' : datum.value == 0.5 ? '0.5' : ''", "labelPadding": 8, "labelFlush": false, "labelOverlap": false, "title": null, "tickSize": 5}},
    "detail": {"field": "line"}}},
  {"layer": [
    {"data": {"values": [{}]}, "mark": {"type": "rect", "color": "#e6e7e9"}, "encoding": {"x": {"datum": 0.1, "type": "quantitative"}, "x2": {"datum": 0.35}, "y": {"datum": 40, "type": "quantitative"}, "y2": {"datum": 50}}},
    {"data": {"values": [{}]}, "mark": {"type": "rule", "color": "#111111", "strokeWidth": 1.3, "strokeDash": [6, 4]}, "encoding": {"x": {"datum": 0.1}, "x2": {"datum": 0.35}, "y": {"datum": 50}}},
    {"data": {"name": "fits"}, "transform": [{"filter": "datum.panel == 'D'"}], "mark": {"type": "line", "strokeWidth": 2.5}, "encoding": {"x": {"field": "x", "type": "quantitative"}, "y": {"field": "p", "type": "quantitative"}, "detail": {"field": "s"}, "color": {"condition": {"test": "datum.s == 'inc'", "value": "#2e3192"}, "value": "#e8262d"}}},
    {"data": {"name": "pts"}, "transform": [{"filter": "datum.panel == 'D' && datum.hi > datum.lo"}], "mark": {"type": "rule", "strokeWidth": 1}, "encoding": {"x": {"field": "lo", "type": "quantitative"}, "x2": {"field": "hi"}, "y": {"field": "p", "type": "quantitative"}, "color": {"condition": {"test": "datum.s == 'inc'", "value": "#2e3192"}, "value": "#e8262d"}}},
    {"data": {"name": "pts"}, "transform": [{"filter": "datum.panel == 'D' && datum.hi > datum.lo"}], "mark": {"type": "tick", "orient": "vertical", "size": 6, "thickness": 1}, "encoding": {"x": {"field": "lo", "type": "quantitative"}, "y": {"field": "p", "type": "quantitative"}, "color": {"condition": {"test": "datum.s == 'inc'", "value": "#2e3192"}, "value": "#e8262d"}}},
    {"data": {"name": "pts"}, "transform": [{"filter": "datum.panel == 'D' && datum.hi > datum.lo"}], "mark": {"type": "tick", "orient": "vertical", "size": 6, "thickness": 1}, "encoding": {"x": {"field": "hi", "type": "quantitative"}, "y": {"field": "p", "type": "quantitative"}, "color": {"condition": {"test": "datum.s == 'inc'", "value": "#2e3192"}, "value": "#e8262d"}}},
    {"data": {"name": "pts"}, "transform": [{"filter": "datum.panel == 'D'"}], "mark": {"type": "circle", "opacity": 1},
     "encoding": {"x": {"field": "x", "type": "quantitative", "scale": {"domain": [0.1, 0.35], "range": [541, 681], "nice": false, "zero": false}, "axis": {"orient": "bottom", "offset": -312, "values": [0.1,0.2,0.3], "format": ".1f", "labelPadding": 9, "title": "Av. Similarity (SSIM)", "titlePadding": 3, "labelFlush": false, "labelOverlap": false, "tickSize": 5}},
      "y": {"field": "p", "type": "quantitative", "scale": {"domain": [40, 110], "range": [646, 417], "nice": false, "zero": false}, "axis": {"orient": "left", "offset": -541, "values": [40,50,60,70,80,90,100], "labelExpr": "datum.value + '%'", "labelPadding": 5, "title": "% Correct", "titlePadding": 1, "labelFlush": false, "labelOverlap": false, "tickSize": 6}},
      "color": {"condition": {"test": "datum.s == 'inc'", "value": "#2e3192"}, "value": "#e8262d"},
      "size": {"condition": [{"test": "datum.p == 100", "value": 14}, {"test": "datum.p == 60 && datum.s == 'inc'", "value": 38}], "value": 60}}},
    {"data": {"values": [{}]}, "mark": {"type": "text", "text": "inc", "align": "left", "baseline": "alphabetic", "fontSize": 14, "fontWeight": "bold", "color": "#2e3192"}, "encoding": {"x": {"datum": 0.3073}, "y": {"datum": 106.9}}},
    {"data": {"values": [{}]}, "mark": {"type": "text", "text": "dec", "align": "left", "baseline": "alphabetic", "fontSize": 14, "fontWeight": "bold", "color": "#e8262d"}, "encoding": {"x": {"datum": 0.3073}, "y": {"datum": 101.7}}},
    {"data": {"values": [{}]}, "mark": {"type": "text", "text": "0.25", "align": "left", "baseline": "alphabetic", "fontSize": 15, "fontWeight": "bold", "color": "#2e3192"}, "encoding": {"x": {"datum": 0.1998}, "y": {"datum": 42.5}}},
    {"data": {"values": [{}]}, "mark": {"type": "text", "text": "0.29", "align": "left", "baseline": "alphabetic", "fontSize": 15, "fontWeight": "bold", "color": "#e8262d"}, "encoding": {"x": {"datum": 0.3002}, "y": {"datum": 53.8}}},
    {"data": {"values": [{}]}, "mark": {"type": "text", "text": "ΔSSIM", "align": "right", "baseline": "alphabetic", "fontSize": 19, "color": "#1a1a1a"}, "encoding": {"x": {"datum": 0.2625}, "y": {"datum": 114.2}}},
    {"data": {"values": [{}]}, "mark": {"type": "text", "text": "narrow", "align": "left", "baseline": "alphabetic", "fontSize": 11, "color": "#1a1a1a"}, "encoding": {"x": {"datum": 0.2635}, "y": {"datum": 113.4}}},
    {"data": {"values": [{}]}, "mark": {"type": "text", "text": "D", "align": "left", "baseline": "alphabetic", "font": "Liberation Serif", "fontWeight": "bold", "fontSize": 25, "color": "#1a1a1a"}, "encoding": {"x": {"datum": -0.0129}, "y": {"datum": 121.4}}}
  ]},
  {"data": {"name": "E"}, "layer": [
    {"mark": {"type": "bar", "stroke": "#222222", "strokeWidth": 1},
     "encoding": {"x": {"field": "k", "type": "nominal", "scale": {"domain": ["1", "0.32", "0.04"], "range": [78, 207], "paddingInner": 0.31, "paddingOuter": 0.19}, "axis": {"orient": "bottom", "offset": -45, "title": "SSIM", "labelAngle": 0, "ticks": false, "labelFontSize": 14, "labelPadding": 5, "titleFontSize": 16, "titleFontWeight": "normal", "titlePadding": 9}},
      "y": {"field": "m", "type": "quantitative", "scale": {"domain": [40, 100], "range": [913, 772], "nice": false, "zero": false}, "axis": {"orient": "left", "offset": -78, "values": [50,60,70,80,90,100], "labelExpr": "datum.value + '%'", "labelPadding": 6, "labelFlush": false, "labelOverlap": false, "tickSize": 4, "title": "% Correct at end", "titleFontSize": 15, "titlePadding": 4, "grid": true, "gridColor": "#222222", "gridDash": [4, 3], "gridWidth": 1, "gridOpacity": {"condition": {"test": "datum.value == 50", "value": 1}, "value": 0}}},
      "y2": {"datum": 40},
      "fill": {"condition": [{"test": "datum.k == '1'", "value": "#ffffff"}, {"test": "datum.k == '0.32'", "value": "#808080"}], "value": "#333333"}}},
    {"mark": {"type": "rule", "color": "#222222", "strokeWidth": 1.2}, "encoding": {"x": {"field": "k", "type": "nominal"}, "y": {"field": "lo", "type": "quantitative"}, "y2": {"field": "hi"}}},
    {"mark": {"type": "tick", "orient": "horizontal", "size": 14, "thickness": 1.2, "color": "#222222"}, "encoding": {"x": {"field": "k", "type": "nominal"}, "y": {"field": "lo", "type": "quantitative"}}},
    {"mark": {"type": "tick", "orient": "horizontal", "size": 14, "thickness": 1.2, "color": "#222222"}, "encoding": {"x": {"field": "k", "type": "nominal"}, "y": {"field": "hi", "type": "quantitative"}}},
    {"mark": {"type": "text", "fontSize": 22, "fontWeight": "bold", "baseline": "middle", "dy": -4}, "encoding": {"x": {"field": "k", "type": "nominal"}, "y": {"field": "hi", "type": "quantitative"}, "text": {"field": "stars"}}},
    {"transform": [{"filter": "datum.stars != ''"}], "mark": {"type": "text", "fontSize": 16, "baseline": "middle", "dy": -24, "color": "#333333"}, "encoding": {"x": {"field": "k", "type": "nominal"}, "y": {"field": "hi", "type": "quantitative"}, "text": {"field": "letter"}}},
    {"transform": [{"filter": "datum.stars == ''"}], "mark": {"type": "text", "fontSize": 16, "baseline": "middle", "dy": -10, "color": "#333333"}, "encoding": {"x": {"field": "k", "type": "nominal"}, "y": {"field": "hi", "type": "quantitative"}, "text": {"field": "letter"}}},
    {"data": {"values": [{}]}, "mark": {"type": "text", "text": "E", "align": "left", "baseline": "alphabetic", "font": "Liberation Serif", "fontWeight": "bold", "fontSize": 25, "dx": -98, "color": "#1a1a1a"}, "encoding": {"x": {"datum": "1", "type": "nominal"}, "y": {"datum": 115, "type": "quantitative"}}}
  ]},
  {"data": {"name": "F"}, "layer": [
    {"mark": {"type": "bar", "stroke": "#333333", "strokeWidth": 1},
     "encoding": {"x": {"field": "g", "type": "nominal", "scale": {"domain": ["SSIM"], "range": [300, 391], "paddingInner": 0, "paddingOuter": 0}, "axis": {"orient": "bottom", "offset": -45, "title": "wide", "labelAngle": 0, "ticks": false, "labelFontSize": 19, "labelPadding": 4, "titleFontSize": 13, "titleFontWeight": "normal", "titlePadding": 1}},
      "xOffset": {"field": "s", "type": "nominal", "scale": {"domain": ["inc", "dec"], "paddingInner": 0.33, "paddingOuter": 0.24}},
      "y": {"field": "m", "type": "quantitative", "scale": {"domain": [40, 100], "range": [913, 772], "nice": false, "zero": false}, "axis": {"orient": "left", "offset": -300, "values": [50,60,70,80,90,100], "labelExpr": "datum.value + '%'", "labelPadding": 6, "labelFlush": false, "labelOverlap": false, "tickSize": 4, "title": null, "grid": true, "gridColor": "#222222", "gridDash": [4, 3], "gridWidth": 1, "gridOpacity": {"condition": {"test": "datum.value == 50", "value": 1}, "value": 0}}},
      "y2": {"datum": 40},
      "fill": {"condition": {"test": "datum.s == 'inc'", "value": "#2e3192"}, "value": "#e8262d"}}},
    {"mark": {"type": "rule", "color": "#222222", "strokeWidth": 1.2}, "encoding": {"x": {"field": "g", "type": "nominal"}, "xOffset": {"field": "s", "type": "nominal"}, "y": {"field": "lo", "type": "quantitative"}, "y2": {"field": "hi"}}},
    {"mark": {"type": "tick", "orient": "horizontal", "size": 14, "thickness": 1.2, "color": "#222222"}, "encoding": {"x": {"field": "g", "type": "nominal"}, "xOffset": {"field": "s", "type": "nominal"}, "y": {"field": "lo", "type": "quantitative"}}},
    {"mark": {"type": "tick", "orient": "horizontal", "size": 14, "thickness": 1.2, "color": "#222222"}, "encoding": {"x": {"field": "g", "type": "nominal"}, "xOffset": {"field": "s", "type": "nominal"}, "y": {"field": "hi", "type": "quantitative"}}},
    {"mark": {"type": "text", "fontSize": 22, "fontWeight": "bold", "baseline": "middle", "dy": -4}, "encoding": {"x": {"field": "g", "type": "nominal"}, "xOffset": {"field": "s", "type": "nominal"}, "y": {"field": "hi", "type": "quantitative"}, "text": {"field": "stars"}}},
    {"mark": {"type": "text", "fontSize": 16, "baseline": "middle", "dy": -24, "color": "#333333"}, "encoding": {"x": {"field": "g", "type": "nominal"}, "xOffset": {"field": "s", "type": "nominal"}, "y": {"field": "hi", "type": "quantitative"}, "text": {"field": "letter"}}},
    {"data": {"values": [{}]}, "mark": {"type": "text", "text": "equiprobable", "align": "center", "baseline": "alphabetic", "fontSize": 14, "fontStyle": "italic", "color": "#333333"}, "encoding": {"x": {"datum": "SSIM", "type": "nominal"}, "y": {"datum": 113, "type": "quantitative"}}},
    {"data": {"values": [{}]}, "mark": {"type": "text", "text": "stimuli", "align": "center", "baseline": "alphabetic", "fontSize": 14, "fontStyle": "italic", "color": "#333333"}, "encoding": {"x": {"datum": "SSIM", "type": "nominal"}, "y": {"datum": 106, "type": "quantitative"}}},
    {"data": {"values": [{}]}, "mark": {"type": "text", "text": "inc", "align": "left", "baseline": "alphabetic", "fontSize": 15, "fontWeight": "bold", "dx": 42.5, "color": "#2e3192"}, "encoding": {"x": {"datum": "SSIM", "type": "nominal"}, "y": {"datum": 102.6, "type": "quantitative"}}},
    {"data": {"values": [{}]}, "mark": {"type": "text", "text": "dec", "align": "left", "baseline": "alphabetic", "fontSize": 15, "fontWeight": "bold", "dx": 42.5, "color": "#e8262d"}, "encoding": {"x": {"datum": "SSIM", "type": "nominal"}, "y": {"datum": 95.3, "type": "quantitative"}}},
    {"data": {"values": [{}]}, "mark": {"type": "text", "text": "F", "align": "left", "baseline": "alphabetic", "font": "Liberation Serif", "fontWeight": "bold", "fontSize": 25, "dx": -99, "color": "#1a1a1a"}, "encoding": {"x": {"datum": "SSIM", "type": "nominal"}, "y": {"datum": 115, "type": "quantitative"}}}
  ]},
  {"data": {"name": "G"}, "layer": [
    {"mark": {"type": "bar", "stroke": "#333333", "strokeWidth": 1},
     "encoding": {"x": {"field": "g", "type": "nominal", "scale": {"domain": ["SSIM", "ΔSSIM"], "range": [486, 653], "paddingInner": 0, "paddingOuter": 0}, "axis": {"orient": "bottom", "offset": -45, "title": "narrow", "labelAngle": 0, "ticks": false, "labelFontSize": 19, "labelPadding": 4, "titleFontSize": 13, "titleFontWeight": "normal", "titlePadding": 1}},
      "xOffset": {"field": "s", "type": "nominal", "scale": {"domain": ["inc", "dec"], "paddingInner": 0.29, "paddingOuter": 0.165}},
      "y": {"field": "m", "type": "quantitative", "scale": {"domain": [40, 100], "range": [913, 772], "nice": false, "zero": false}, "axis": {"orient": "left", "offset": -486, "values": [50,60,70,80,90,100], "labelExpr": "datum.value + '%'", "labelPadding": 6, "labelFlush": false, "labelOverlap": false, "tickSize": 4, "title": null, "grid": true, "gridColor": "#222222", "gridDash": [4, 3], "gridWidth": 1, "gridOpacity": {"condition": {"test": "datum.value == 50", "value": 1}, "value": 0}}},
      "y2": {"datum": 40},
      "fill": {"condition": {"test": "datum.s == 'inc'", "value": "#2e3192"}, "value": "#e8262d"}}},
    {"mark": {"type": "rule", "color": "#222222", "strokeWidth": 1.2}, "encoding": {"x": {"field": "g", "type": "nominal"}, "xOffset": {"field": "s", "type": "nominal"}, "y": {"field": "lo", "type": "quantitative"}, "y2": {"field": "hi"}}},
    {"mark": {"type": "tick", "orient": "horizontal", "size": 14, "thickness": 1.2, "color": "#222222"}, "encoding": {"x": {"field": "g", "type": "nominal"}, "xOffset": {"field": "s", "type": "nominal"}, "y": {"field": "lo", "type": "quantitative"}}},
    {"mark": {"type": "tick", "orient": "horizontal", "size": 14, "thickness": 1.2, "color": "#222222"}, "encoding": {"x": {"field": "g", "type": "nominal"}, "xOffset": {"field": "s", "type": "nominal"}, "y": {"field": "hi", "type": "quantitative"}}},
    {"mark": {"type": "text", "fontSize": 22, "fontWeight": "bold", "baseline": "middle", "dy": -4}, "encoding": {"x": {"field": "g", "type": "nominal"}, "xOffset": {"field": "s", "type": "nominal"}, "y": {"field": "hi", "type": "quantitative"}, "text": {"field": "stars"}}},
    {"mark": {"type": "text", "fontSize": 16, "baseline": "middle", "dy": -24, "color": "#333333"}, "encoding": {"x": {"field": "g", "type": "nominal"}, "xOffset": {"field": "s", "type": "nominal"}, "y": {"field": "hi", "type": "quantitative"}, "text": {"field": "letter"}}},
    {"data": {"values": [{}]}, "mark": {"type": "rule", "color": "#999999", "strokeWidth": 1}, "encoding": {"x": {"datum": "ΔSSIM", "type": "nominal"}, "xOffset": {"datum": "inc", "type": "nominal"}, "y": {"datum": 92.8, "type": "quantitative"}, "y2": {"datum": 95.7}}},
    {"data": {"values": [{}]}, "mark": {"type": "rule", "color": "#999999", "strokeWidth": 1}, "encoding": {"x": {"datum": "ΔSSIM", "type": "nominal"}, "xOffset": {"datum": "dec", "type": "nominal"}, "y": {"datum": 92.8, "type": "quantitative"}, "y2": {"datum": 95.7}}},
    {"data": {"values": [{}]}, "mark": {"type": "tick", "orient": "horizontal", "size": 42, "thickness": 1, "color": "#999999"}, "encoding": {"x": {"datum": "ΔSSIM", "type": "nominal"}, "y": {"datum": 95.7, "type": "quantitative"}}},
    {"data": {"values": [{}]}, "mark": {"type": "text", "text": "n.s.", "align": "center", "baseline": "middle", "fontSize": 14, "color": "#444444"}, "encoding": {"x": {"datum": "ΔSSIM", "type": "nominal"}, "y": {"datum": 99, "type": "quantitative"}}},
    {"data": {"values": [{}]}, "mark": {"type": "text", "text": "equiprobable stimuli", "align": "center", "baseline": "alphabetic", "fontSize": 15, "fontStyle": "italic", "dx": 42, "color": "#333333"}, "encoding": {"x": {"datum": "SSIM", "type": "nominal"}, "y": {"datum": 112.9, "type": "quantitative"}}},
    {"data": {"values": [{}]}, "mark": {"type": "text", "text": "inc", "align": "left", "baseline": "alphabetic", "fontSize": 15, "fontWeight": "bold", "dx": 43.75, "color": "#2e3192"}, "encoding": {"x": {"datum": "ΔSSIM", "type": "nominal"}, "y": {"datum": 102.6, "type": "quantitative"}}},
    {"data": {"values": [{}]}, "mark": {"type": "text", "text": "dec", "align": "left", "baseline": "alphabetic", "fontSize": 15, "fontWeight": "bold", "dx": 43.75, "color": "#e8262d"}, "encoding": {"x": {"datum": "ΔSSIM", "type": "nominal"}, "y": {"datum": 95.3, "type": "quantitative"}}},
    {"data": {"values": [{}]}, "mark": {"type": "text", "text": "G", "align": "left", "baseline": "alphabetic", "font": "Liberation Serif", "fontWeight": "bold", "fontSize": 25, "dx": -101, "color": "#1a1a1a"}, "encoding": {"x": {"datum": "SSIM", "type": "nominal"}, "y": {"datum": 114.3, "type": "quantitative"}}}
  ]}
]
}
